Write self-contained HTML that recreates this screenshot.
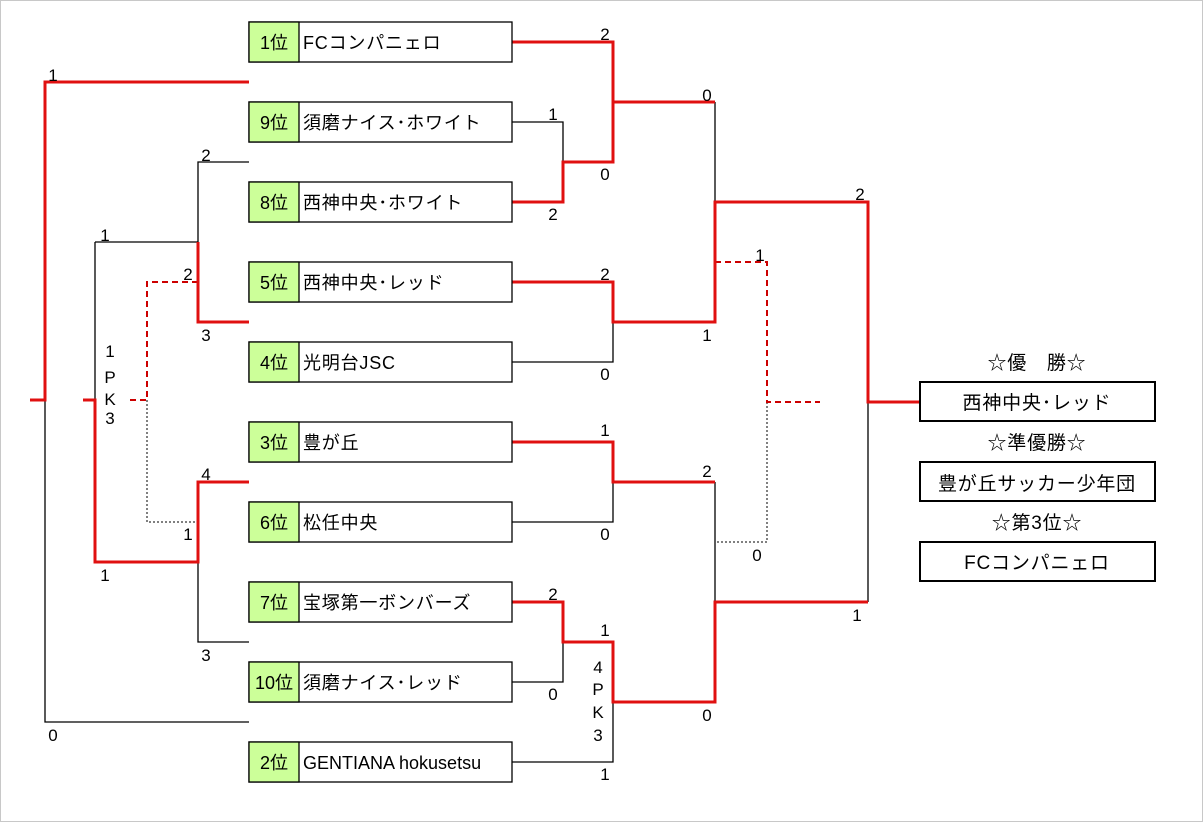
<!DOCTYPE html>
<html><head><meta charset="utf-8"><style>
html,body{margin:0;padding:0;background:#fff;}
svg{display:block;}
text{font-family:"Liberation Sans","Noto Sans CJK JP",sans-serif;fill:#000;}
.n{font-size:18px;letter-spacing:0.8px;}
.s{font-size:17px;}
</style></head><body>
<svg width="1203" height="822" viewBox="0 0 1203 822" xmlns="http://www.w3.org/2000/svg">
<rect x="0.5" y="0.5" width="1202" height="821" fill="#fff" stroke="#c8c8c8"/>
<g stroke="#000" stroke-width="1.3" fill="none">
<path d="M45 400V722H249"/>
<path d="M249 162H198V242"/>
<path d="M95 242H198"/>
<path d="M95 242V400"/>
<path d="M198 562V642H249"/>
<path d="M512 122H563V162"/>
<path d="M613 102V162"/>
<path d="M512 362H613V322"/>
<path d="M512 522H613V482"/>
<path d="M512 682H563V642"/>
<path d="M512 762H613V702"/>
<path d="M715 102V202"/>
<path d="M715 482V602"/>
<path d="M868 402V602"/>
</g>
<g stroke="#000" stroke-width="1" fill="none" stroke-dasharray="2,2">
<path d="M147 400V522H198"/>
<path d="M767 402V542H715"/>
</g>
<g stroke="#c00" stroke-width="2" fill="none" stroke-dasharray="6,4">
<path d="M130 400H147V282H198"/>
<path d="M715 262H767V402H820"/>
</g>
<g stroke="#e01010" stroke-width="3" fill="none">
<path d="M30 400H45V82H249"/>
<path d="M198 242V322H249"/>
<path d="M83 400H95V562H198V482H249"/>
<path d="M512 202H563V162H613V102H715"/>
<path d="M512 42H613V102"/>
<path d="M512 282H613V322H715V202H868V402H920"/>
<path d="M512 442H613V482H715"/>
<path d="M512 602H563V642H613V702H715V602H868"/>
</g>
<g stroke="#000" stroke-width="1.3">
<rect x="249" y="22" width="263" height="40" fill="#fff"/><rect x="249" y="22" width="50" height="40" fill="#ccff99"/>
<rect x="249" y="102" width="263" height="40" fill="#fff"/><rect x="249" y="102" width="50" height="40" fill="#ccff99"/>
<rect x="249" y="182" width="263" height="40" fill="#fff"/><rect x="249" y="182" width="50" height="40" fill="#ccff99"/>
<rect x="249" y="262" width="263" height="40" fill="#fff"/><rect x="249" y="262" width="50" height="40" fill="#ccff99"/>
<rect x="249" y="342" width="263" height="40" fill="#fff"/><rect x="249" y="342" width="50" height="40" fill="#ccff99"/>
<rect x="249" y="422" width="263" height="40" fill="#fff"/><rect x="249" y="422" width="50" height="40" fill="#ccff99"/>
<rect x="249" y="502" width="263" height="40" fill="#fff"/><rect x="249" y="502" width="50" height="40" fill="#ccff99"/>
<rect x="249" y="582" width="263" height="40" fill="#fff"/><rect x="249" y="582" width="50" height="40" fill="#ccff99"/>
<rect x="249" y="662" width="263" height="40" fill="#fff"/><rect x="249" y="662" width="50" height="40" fill="#ccff99"/>
<rect x="249" y="742" width="263" height="40" fill="#fff"/><rect x="249" y="742" width="50" height="40" fill="#ccff99"/>
</g>
<g stroke="#000" stroke-width="2" fill="#fff">
<rect x="920" y="382" width="235" height="39"/>
<rect x="920" y="462" width="235" height="39"/>
<rect x="920" y="542" width="235" height="39"/>
</g>
<g class="n" text-anchor="middle" style="letter-spacing:0">
<text x="274" y="49">1位</text><text x="274" y="129">9位</text><text x="274" y="209">8位</text><text x="274" y="289">5位</text><text x="274" y="369">4位</text>
<text x="274" y="449">3位</text><text x="274" y="529">6位</text><text x="274" y="609">7位</text><text x="274" y="689">10位</text><text x="274" y="769">2位</text>
</g>
<g class="n">
<text x="303" y="49">FCコンパニェロ</text>
<text x="303" y="129">須磨ナイス･ホワイト</text>
<text x="303" y="209">西神中央･ホワイト</text>
<text x="303" y="289">西神中央･レッド</text>
<text x="303" y="369">光明台JSC</text>
<text x="303" y="449">豊が丘</text>
<text x="303" y="529">松任中央</text>
<text x="303" y="609">宝塚第一ボンバーズ</text>
<text x="303" y="689">須磨ナイス･レッド</text>
<text x="303" y="769" style="letter-spacing:0">GENTIANA hokusetsu</text>
</g>
<g class="n" text-anchor="middle" style="font-size:19px">
<text x="1037" y="369">☆優　勝☆</text>
<text x="1037" y="409">西神中央･レッド</text>
<text x="1037" y="449">☆準優勝☆</text>
<text x="1037" y="490">豊が丘サッカー少年団</text>
<text x="1037" y="529">☆第3位☆</text>
<text x="1037" y="569">FCコンパニェロ</text>
</g>
<g class="s" text-anchor="middle">
<text x="53" y="81">1</text><text x="53" y="741">0</text>
<text x="105" y="241">1</text><text x="105" y="581">1</text>
<text x="206" y="161">2</text><text x="206" y="341">3</text><text x="188" y="280">2</text>
<text x="206" y="480">4</text><text x="188" y="540">1</text><text x="206" y="661">3</text>
<text x="110" y="357">1</text><text x="110" y="383">P</text><text x="110" y="405">K</text><text x="110" y="424">3</text>
<text x="605" y="40">2</text><text x="605" y="180">0</text>
<text x="553" y="120">1</text><text x="553" y="220">2</text>
<text x="605" y="280">2</text><text x="605" y="380">0</text>
<text x="605" y="436">1</text><text x="605" y="540">0</text>
<text x="553" y="600">2</text><text x="553" y="700">0</text>
<text x="605" y="636">1</text><text x="605" y="780">1</text>
<text x="598" y="673">4</text><text x="598" y="695">P</text><text x="598" y="718">K</text><text x="598" y="741">3</text>
<text x="707" y="101">0</text><text x="707" y="341">1</text>
<text x="707" y="477">2</text><text x="707" y="721">0</text>
<text x="760" y="261">1</text><text x="757" y="561">0</text>
<text x="860" y="200">2</text><text x="857" y="621">1</text>
</g>
</svg>
</body></html>
